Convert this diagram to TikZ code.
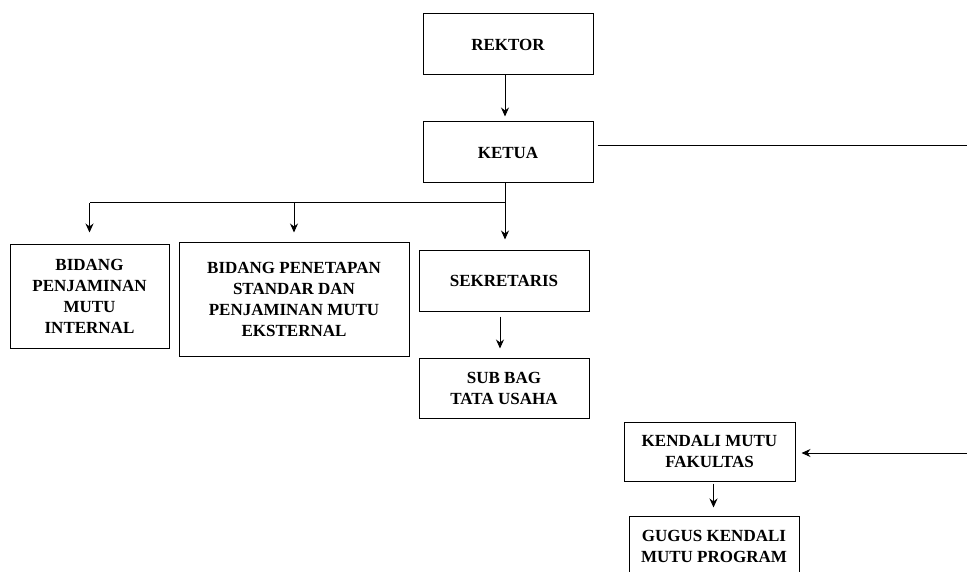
\documentclass[tikz,border=0pt]{standalone}
\usepackage{fontspec}
\setmainfont{Liberation Serif}
\usetikzlibrary{arrows.meta}

\begin{document}
\begin{tikzpicture}[x=1pt, y=-1pt, line width=1pt,
    unitbox/.style={draw, inner sep=0, align=center, minimum width=170, minimum height=60,
        font=\fontsize{17}{21}\selectfont\bfseries},
    link/.style={-{Stealth[length=9pt, width=8pt]}}]

    \useasboundingbox (0, 0) rectangle (967, 572);

    % Pimpinan
    \node[unitbox, minimum height=61] (rektor) at (508, 44.5) {REKTOR};
    \node[unitbox, minimum height=61] (ketua) at (508, 152.5) {KETUA};

    % Bidang
    \node[unitbox, minimum width=159, minimum height=103] (bpmi) at (89.5, 296.5)
    {BIDANG\\PENJAMINAN\\MUTU\\INTERNAL};
    \node[unitbox, minimum width=230, minimum height=113] (bpsp) at (294, 299.5)
    {BIDANG PENETAPAN\\STANDAR DAN\\PENJAMINAN MUTU\\EKSTERNAL};

    % Sekretariat
    \node[unitbox] (sekretaris) at (504, 281) {SEKRETARIS};
    \node[unitbox] (subbag) at (504, 388) {SUB BAG\\TATA USAHA};

    % Fakultas
    \node[unitbox, minimum width=171, minimum height=59] (kendali) at (709.5, 451.5)
    {KENDALI MUTU\\FAKULTAS};
    \node[unitbox] (gugus) at (714, 546) {GUGUS KENDALI\\MUTU PROGRAM};

    \coordinate (bar) at (505, 203);
    \coordinate (ketuaR) at (967, 146);
    \coordinate (kendaliR) at (967, 453);

    % Lines
    \draw[link, shorten >=5] (rektor.south -| bar) -- (ketua.north -| bar);
    \draw[link, shorten >=11] (ketua.south -| bar) -- (sekretaris.north -| bar);
    \draw (bar) -- (bpmi.north |- bar);
    \draw[link, shorten >=12] (bpmi.north |- bar) -- (bpmi.north);
    \draw[link, shorten >=10] (bpsp.north |- bar) -- (bpsp.north);
    \draw[link, shorten <=5, shorten >=9] ([xshift=-4]sekretaris.south) -- ([xshift=-4]subbag.north);
    \draw ([xshift=4]ketua.east |- ketuaR) -- (ketuaR);
    \draw[link, shorten >=6] (kendaliR) -- (kendali.east |- kendaliR);
    \draw[link, shorten <=2, shorten >=8] ([xshift=4]kendali.south) -- ([xshift=4]kendali.south |- gugus.north);

\end{tikzpicture}
\end{document}
